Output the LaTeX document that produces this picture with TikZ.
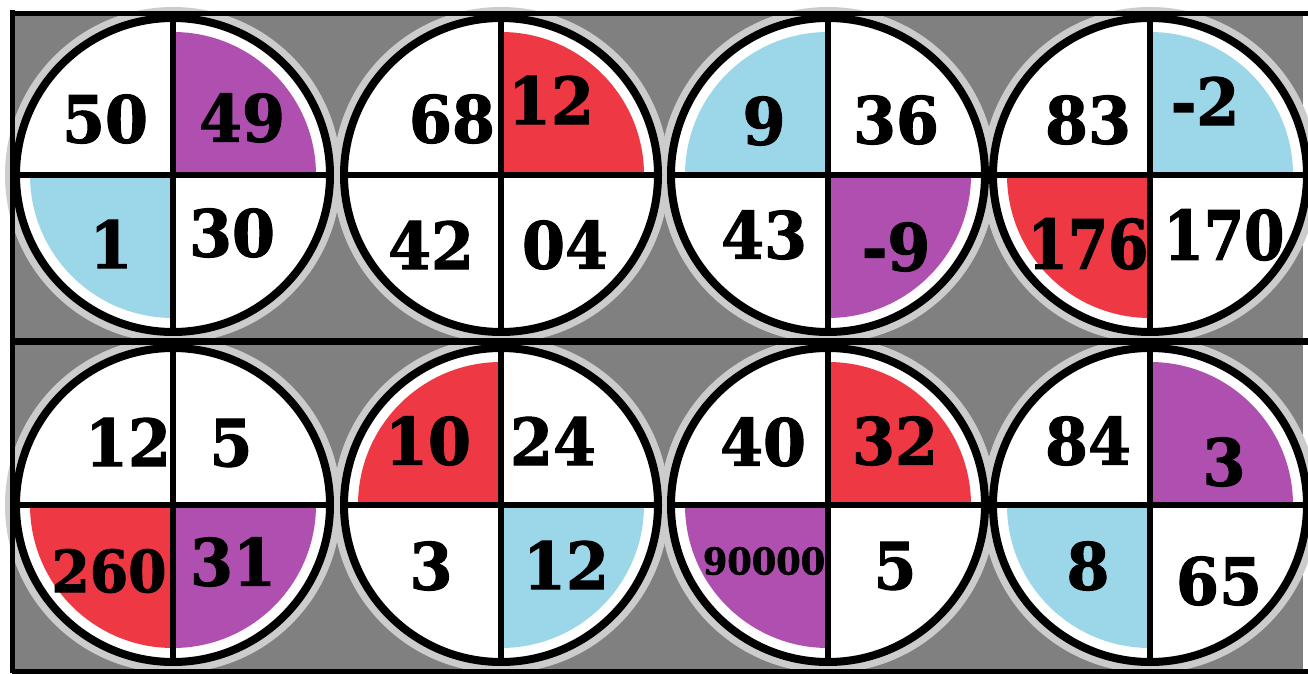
\documentclass[tikz,border=0pt]{standalone}
\usepackage{fontspec}
\newfontfamily\digitfont{DejaVu Serif}[FakeStretch=0.95, FakeBold=1.6]
\newfontfamily\narrowdigit{DejaVu Serif}[FakeStretch=0.85, FakeBold=1.6]
\definecolor{qpurple}{HTML}{AF4FB0}
\definecolor{qblue}{HTML}{9BD7E8}
\definecolor{qred}{HTML}{EE3843}
\definecolor{qgray}{HTML}{808080}
\tikzset{
  wheel/.style={circle, draw=black, line width=8pt, fill=white, minimum size=314pt, inner sep=0pt, outer sep=0pt},
  divider/.style={line width=6pt},
  border/.style={line width=5pt},
  num/.style={inner sep=0pt, font=\digitfont\bfseries\fontsize{65}{65}\selectfont},
  numthree/.style={inner sep=0pt, font=\narrowdigit\bfseries\fontsize{68}{68}\selectfont},
}
\begin{document}
\begin{tikzpicture}[x=1pt,y=1pt]
	\useasboundingbox (0,0) rectangle (1308,673);
	
	\def\fil{143}
	\def\halo{168}
	
	\fill[qgray] (12,3) rectangle (1303,659);
	
	\coordinate (c1) at (173,498);
	\coordinate (c2) at (501,498);
	\coordinate (c3) at (828,498);
	\coordinate (c4) at (1150,498);
	\coordinate (c5) at (173,168);
	\coordinate (c6) at (501,168);
	\coordinate (c7) at (828,168);
	\coordinate (c8) at (1150,168);
	
	\fill[white!60!qgray] (c1) circle[radius=\halo];
	\fill[white!60!qgray] (c2) circle[radius=\halo];
	\fill[white!60!qgray] (c3) circle[radius=\halo];
	\fill[white!60!qgray] (c4) circle[radius=\halo];
	\fill[white!60!qgray] (c5) circle[radius=\halo];
	\fill[white!60!qgray] (c6) circle[radius=\halo];
	\fill[white!60!qgray] (c7) circle[radius=\halo];
	\fill[white!60!qgray] (c8) circle[radius=\halo];
	
	\node[wheel] (w1) at (c1) {};
	\node[wheel] (w2) at (c2) {};
	\node[wheel] (w3) at (c3) {};
	\node[wheel] (w4) at (c4) {};
	\node[wheel] (w5) at (c5) {};
	\node[wheel] (w6) at (c6) {};
	\node[wheel] (w7) at (c7) {};
	\node[wheel] (w8) at (c8) {};
	
	% coloured quarters
	\fill[qpurple] (w1.center) -- ++(0:\fil) arc[start angle=0, end angle=90, radius=\fil] -- cycle;
	\fill[qblue] (w1.center) -- ++(180:\fil) arc[start angle=180, end angle=270, radius=\fil] -- cycle;
	\fill[qred] (w2.center) -- ++(0:\fil) arc[start angle=0, end angle=90, radius=\fil] -- cycle;
	\fill[qblue] (w3.center) -- ++(90:\fil) arc[start angle=90, end angle=180, radius=\fil] -- cycle;
	\fill[qpurple] (w3.center) -- ++(270:\fil) arc[start angle=270, end angle=360, radius=\fil] -- cycle;
	\fill[qblue] (w4.center) -- ++(0:\fil) arc[start angle=0, end angle=90, radius=\fil] -- cycle;
	\fill[qred] (w4.center) -- ++(180:\fil) arc[start angle=180, end angle=270, radius=\fil] -- cycle;
	\fill[qred] (w5.center) -- ++(180:\fil) arc[start angle=180, end angle=270, radius=\fil] -- cycle;
	\fill[qpurple] (w5.center) -- ++(270:\fil) arc[start angle=270, end angle=360, radius=\fil] -- cycle;
	\fill[qred] (w6.center) -- ++(90:\fil) arc[start angle=90, end angle=180, radius=\fil] -- cycle;
	\fill[qblue] (w6.center) -- ++(270:\fil) arc[start angle=270, end angle=360, radius=\fil] -- cycle;
	\fill[qred] (w7.center) -- ++(0:\fil) arc[start angle=0, end angle=90, radius=\fil] -- cycle;
	\fill[qpurple] (w7.center) -- ++(180:\fil) arc[start angle=180, end angle=270, radius=\fil] -- cycle;
	\fill[qpurple] (w8.center) -- ++(0:\fil) arc[start angle=0, end angle=90, radius=\fil] -- cycle;
	\fill[qblue] (w8.center) -- ++(180:\fil) arc[start angle=180, end angle=270, radius=\fil] -- cycle;
	
	\draw[divider] (w1.north) -- (w1.south);
	\draw[divider] (w1.west) -- (w1.east);
	\draw[divider] (w2.north) -- (w2.south);
	\draw[divider] (w2.west) -- (w2.east);
	\draw[divider] (w3.north) -- (w3.south);
	\draw[divider] (w3.west) -- (w3.east);
	\draw[divider] (w4.north) -- (w4.south);
	\draw[divider] (w4.west) -- (w4.east);
	\draw[divider] (w5.north) -- (w5.south);
	\draw[divider] (w5.west) -- (w5.east);
	\draw[divider] (w6.north) -- (w6.south);
	\draw[divider] (w6.west) -- (w6.east);
	\draw[divider] (w7.north) -- (w7.south);
	\draw[divider] (w7.west) -- (w7.east);
	\draw[divider] (w8.north) -- (w8.south);
	\draw[divider] (w8.west) -- (w8.east);
	
	\node[num] (n1a) at (105,554) {50};
	\node[num] (n1b) at (242,555) {49};
	\node[num] (n1c) at (111,429) {1};
	\node[num] (n1d) at (232,440) {30};
	
	\node[num] (n2a) at (452,554) {68};
	\node[num] (n2b) at (551,573) {12};
	\node[num] (n2c) at (431,428) {42};
	\node[num] (n2d) at (565,428) {04};
	
	\node[num] (n3a) at (764,552) {9};
	\node[num] (n3b) at (896,553) {36};
	\node[num] (n3c) at (764,438) {43};
	\node[num] (n3d) at (896,426) {-9};
	
	\node[num] (n4a) at (1088,553) {83};
	\node[num] (n4b) at (1205,572) {-2};
	\node[numthree] (n4c) at (1088,429) {176};
	\node[numthree] (n4d) at (1224,438) {170};
	
	\node[num] (n5a) at (128,231) {12};
	\node[num] (n5b) at (231,230) {5};
	\node[num, font=\digitfont\bfseries\fontsize{58}{58}\selectfont] (n5c) at (109,102) {260};
	\node[num] (n5d) at (233,111) {31};
	
	\node[num] (n6a) at (428,232) {10};
	\node[num] (n6b) at (553,232) {24};
	\node[num] (n6c) at (431,107) {3};
	\node[num] (n6d) at (566,108) {12};
	
	\node[num] (n7a) at (763,231) {40};
	\node[num] (n7b) at (895,232) {32};
	\node[num, font=\digitfont\bfseries\fontsize{37}{37}\selectfont] (n7c) at (764,112) {90000};
	\node[num] (n7d) at (895,107) {5};
	
	\node[num] (n8a) at (1088,232) {84};
	\node[num] (n8b) at (1224,211) {3};
	\node[num] (n8c) at (1088,107) {8};
	\node[num] (n8d) at (1219,92) {65};
	
	\draw[border] (10,659) -- (1308,659);
	\draw[border] (12,0) -- (12,663);
	\draw[line width=7pt] (12,332) -- (1308,332);
	\draw[border] (12,2) -- (1308,2);
\end{tikzpicture}
\end{document}
